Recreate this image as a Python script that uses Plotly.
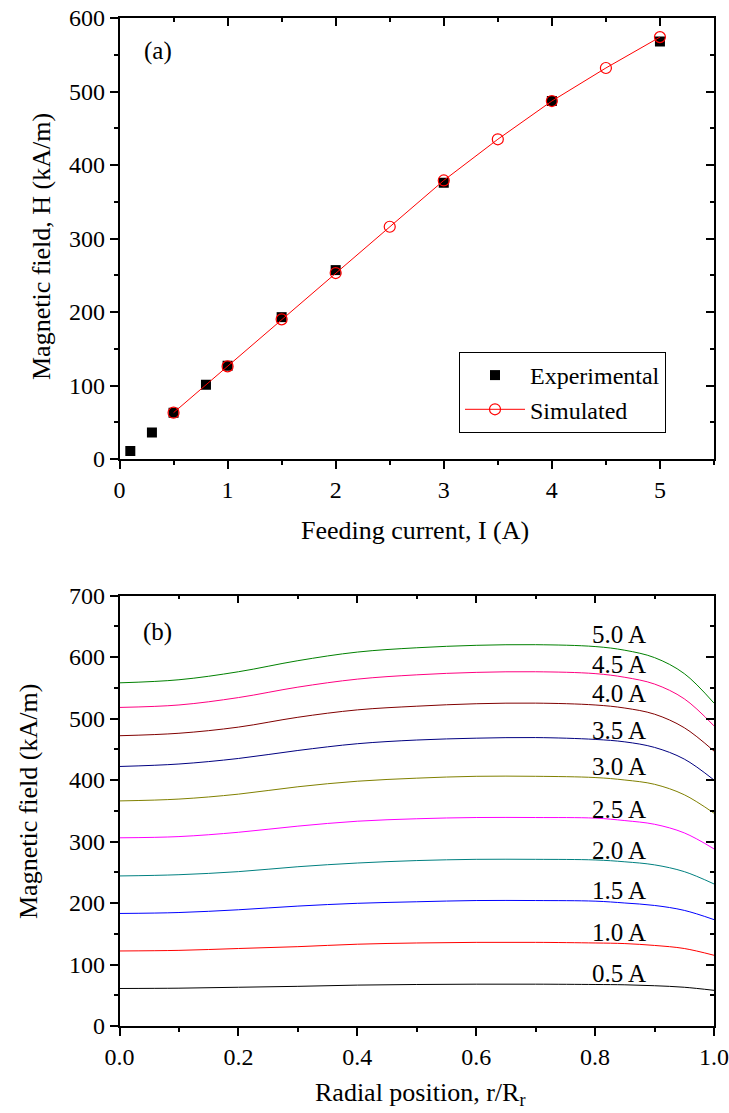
import plotly.graph_objects as go

# ---------------- data ----------------
# panel (a)
current_exp = [0.1, 0.3, 0.5, 0.8, 1.0, 1.5, 2.0, 3.0, 4.0, 5.0]
H_exp = [11, 36, 63, 101, 127, 193, 257, 376, 487, 568]
current_sim = [0.5, 1.0, 1.5, 2.0, 2.5, 3.0, 3.5, 4.0, 4.5, 5.0]
H_sim = [63, 126, 190, 253, 316, 379, 435, 487, 532, 574]

# panel (b)
r_pos = [0.0, 0.1, 0.2, 0.3, 0.4, 0.5, 0.6, 0.7, 0.8, 0.85, 0.9, 0.95, 1.0]
curve_labels = ["5.0 A", "4.5 A", "4.0 A", "3.5 A", "3.0 A",
                "2.5 A", "2.0 A", "1.5 A", "1.0 A", "0.5 A"]
H_50 = [558, 563, 576, 594, 608, 615, 619, 620, 617, 611, 599, 573, 525]
H_45 = [518, 522, 534, 551, 564, 571, 575, 576, 573, 567, 556, 532, 488]
H_40 = [472, 476, 486, 502, 514, 520, 524, 525, 522, 517, 507, 485, 447]
H_35 = [422, 426, 435, 448, 459, 465, 468, 469, 466, 462, 453, 434, 400]
H_30 = [366, 369, 377, 389, 398, 403, 406, 406, 404, 400, 393, 376, 346]
H_25 = [306, 308, 315, 325, 333, 337, 339, 339, 338, 334, 328, 314, 288]
H_20 = [244, 246, 251, 259, 265, 269, 271, 271, 270, 267, 262, 251, 231]
H_15 = [183, 184.5, 189, 195, 199.5, 202, 204, 204, 203, 200, 196, 188, 173]
H_10 = [122, 123, 126, 129, 133, 135, 136, 136, 135, 134, 131, 126, 115]
H_05 = [61, 61.5, 63, 64.5, 66.5, 67.5, 68, 68, 67.5, 67, 65.5, 63, 58]
curve_values = [H_50, H_45, H_40, H_35, H_30, H_25, H_20, H_15, H_10, H_05]
curve_colors = ["#008000", "#FF0080", "#800000", "#000080", "#808000",
                "#FF00FF", "#008080", "#0000FF", "#FF0000", "#000000"]
label_x = 0.84
label_y = [636, 587, 540, 481, 422, 352, 286, 221, 152, 86]

# ---------------- figure ----------------
W, H = 729, 1113
FONT = "Liberation Serif"
TICKF = dict(family=FONT, size=24, color="black")
TITLEF = dict(family=FONT, size=26, color="black")

def px_x(p):
    return p / W

def px_y(p):
    return 1 - p / H

xdom = [px_x(119.5), px_x(714)]
ydom_a = [px_y(459), px_y(18)]
ydom_b = [px_y(1026), px_y(595.5)]

fig = go.Figure()

fig.add_trace(go.Scatter(
    x=current_exp, y=H_exp, mode="markers", name="Experimental",
    marker=dict(symbol="square", size=10, color="black", line=dict(width=0)),
    xaxis="x", yaxis="y"))
fig.add_trace(go.Scatter(
    x=current_sim, y=H_sim, mode="lines+markers", name="Simulated",
    line=dict(color="#FF0000", width=1),
    marker=dict(symbol="circle-open", size=11, color="#FF0000", line=dict(width=1.2)),
    xaxis="x", yaxis="y"))

for vals, col in zip(curve_values, curve_colors):
    fig.add_trace(go.Scatter(
        x=r_pos, y=vals, mode="lines",
        line=dict(color=col, width=1, shape="spline", smoothing=1.0),
        showlegend=False, xaxis="x2", yaxis="y2", hoverinfo="skip"))

# empty traces so the mirrored inward-tick axes are drawn
fig.add_trace(go.Scatter(x=[], y=[], xaxis="x3", yaxis="y3", showlegend=False))
fig.add_trace(go.Scatter(x=[], y=[], xaxis="x4", yaxis="y4", showlegend=False))

def base_axis(rng, dtick, minor_dtick, domain, anchor, side, ticks, labels, overlay=None):
    d = dict(
        range=rng, dtick=dtick, tick0=0, domain=domain, anchor=anchor, side=side,
        ticks=ticks, ticklen=8, tickwidth=1.5, tickcolor="black",
        showline=True, linecolor="black", linewidth=1.5,
        showgrid=False, zeroline=False, showticklabels=labels,
        tickfont=TICKF, automargin=False, fixedrange=True,
        minor=dict(dtick=minor_dtick, tick0=0, ticks=ticks, ticklen=4, tickwidth=1.5,
                   tickcolor="black", showgrid=False),
    )
    if overlay:
        d["overlaying"] = overlay
    return d

layout = dict(
    width=W, height=H, margin=dict(l=0, r=0, t=0, b=0),
    paper_bgcolor="white", plot_bgcolor="white",
    font=dict(family=FONT, color="black"),
    xaxis=base_axis([0, 5.5], 1, 0.5, xdom, "y", "bottom", "outside", True),
    yaxis=base_axis([0, 600], 100, 50, ydom_a, "x", "left", "outside", True),
    xaxis3=base_axis([0, 5.5], 1, 0.5, xdom, "y", "top", "inside", False, overlay="x"),
    yaxis3=base_axis([0, 600], 100, 50, ydom_a, "x", "right", "inside", False, overlay="y"),
    xaxis2=base_axis([0, 1], 0.2, 0.1, xdom, "y2", "bottom", "outside", True),
    yaxis2=base_axis([0, 700], 100, 50, ydom_b, "x2", "left", "outside", True),
    xaxis4=base_axis([0, 1], 0.2, 0.1, xdom, "y2", "top", "inside", False, overlay="x2"),
    yaxis4=base_axis([0, 700], 100, 50, ydom_b, "x2", "right", "inside", False, overlay="y2"),
    showlegend=True,
    legend=dict(x=px_x(459), y=px_y(352), xanchor="left", yanchor="top",
                bgcolor="white", bordercolor="black", borderwidth=1,
                font=dict(family=FONT, size=24, color="black"),
                itemwidth=60, tracegroupgap=0),
)
layout["xaxis2"]["tickformat"] = ".1f"
fig.update_layout(**layout)

ann = []
ann.append(dict(text="Feeding current, I (A)", x=px_x(415), y=px_y(530), xref="paper", yref="paper",
                showarrow=False, font=TITLEF, xanchor="center", yanchor="middle"))
ann.append(dict(text="Magnetic field, H (kA/m)", x=px_x(42), y=px_y(247), xref="paper", yref="paper",
                showarrow=False, font=TITLEF, textangle=-90, xanchor="center", yanchor="middle"))
ann.append(dict(text="Radial position, r/R<sub>r</sub>", x=px_x(420), y=px_y(1094), xref="paper", yref="paper",
                showarrow=False, font=TITLEF, xanchor="center", yanchor="middle"))
ann.append(dict(text="Magnetic field (kA/m)", x=px_x(28), y=px_y(802), xref="paper", yref="paper",
                showarrow=False, font=TITLEF, textangle=-90, xanchor="center", yanchor="middle"))
ann.append(dict(text="(a)", x=0.064, y=1 - (51 - 18) / 441, xref="x domain", yref="y domain",
                showarrow=False, font=dict(family=FONT, size=25, color="black"),
                xanchor="center", yanchor="middle"))
ann.append(dict(text="(b)", x=0.064, y=(1026 - 632) / 430.5, xref="x2 domain", yref="y2 domain",
                showarrow=False, font=dict(family=FONT, size=25, color="black"),
                xanchor="center", yanchor="middle"))
for lab, ly in zip(curve_labels, label_y):
    ann.append(dict(text=lab, x=label_x, y=ly, xref="x2", yref="y2", showarrow=False,
                    font=dict(family=FONT, size=25, color="black"),
                    xanchor="center", yanchor="middle"))
fig.update_layout(annotations=ann)

fig.write_html("out.html")
